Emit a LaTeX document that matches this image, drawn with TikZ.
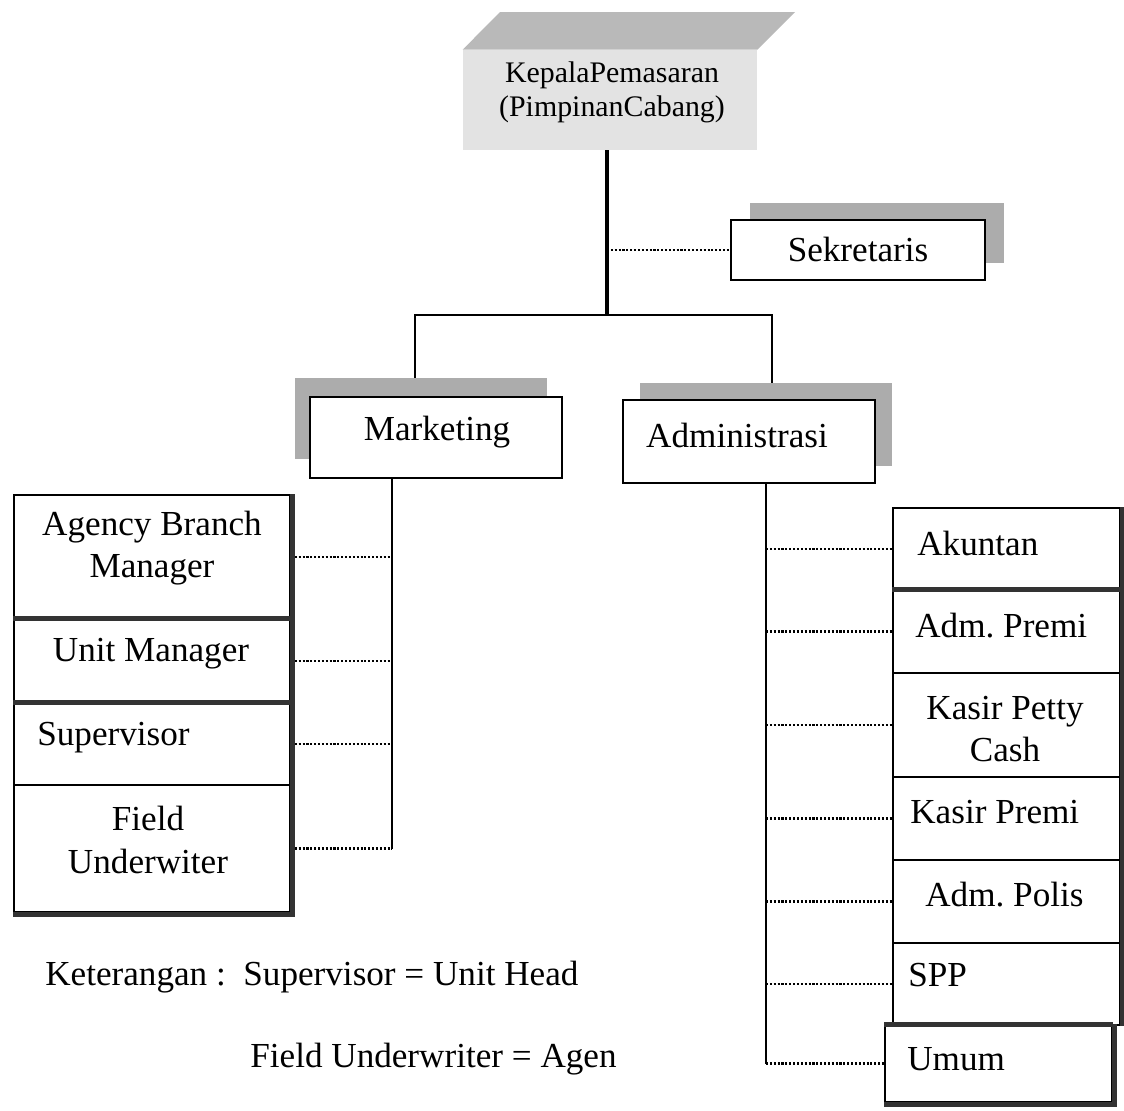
\documentclass[tikz,border=0pt]{standalone}
\usepackage{fontspec}
\setmainfont{Liberation Serif}
\usetikzlibrary{shadows,backgrounds,calc}
\frenchspacing
\begin{document}
\begin{tikzpicture}[x=0.02cm,y=-0.02cm,
  box/.style={draw, line width=1.1pt, fill=white, inner sep=0pt},
  txt/.style={font=\fontsize{20}{24}\selectfont, inner sep=0pt, align=center},
  smalltxt/.style={font=\fontsize{17}{19.5}\selectfont, inner sep=0pt, align=center},
  conn/.style={line width=1.2pt, densely dotted},
  bus/.style={line width=1.1pt},
  trunk/.style={line width=2.6pt},
  heavy/.style={line width=2.8pt, black!80},
  shadowfill/.style={fill=gray!65, opacity=1}
]
\useasboundingbox (0,0) rectangle (1124,1110);

% top box
\node[draw=none, fill=gray!22, minimum width=5.88cm, minimum height=2cm, inner sep=0pt] (kepala) at (610,100) {};
\fill[gray!55] (kepala.north west) -- (500,12) -- (795,12) -- (kepala.north east) -- cycle;
\node[smalltxt] (kepalatxt) at (612,92) {KepalaPemasaran\\(PimpinanCabang)};

% Sekretaris
\node[box, minimum width=5.08cm, minimum height=1.2cm,
  drop shadow={shadow xshift=0.38cm, shadow yshift=0.34cm, shadowfill}] (sek) at (858,250) {};
\node[txt] (sektxt) at (858,249) {Sekretaris};

% Marketing / Administrasi
\node[box, minimum width=5.04cm, minimum height=1.62cm,
  drop shadow={shadow xshift=-0.3cm, shadow yshift=0.38cm, shadowfill}] (mkt) at (436,437.5) {};
\node[txt] (mkttxt) at (437,432) {Marketing};
\node[box, minimum width=5.04cm, minimum height=1.66cm,
  drop shadow={shadow xshift=0.34cm, shadow yshift=0.34cm, shadowfill}] (adm) at (749,441.5) {};
\node[txt] (admtxt) at (737,435) {Administrasi};

% left stack
\node[box, minimum width=5.52cm, minimum height=2.48cm] (abm) at (152,557) {};
\node[box, minimum width=5.52cm, minimum height=1.68cm] (um) at (152,661) {};
\node[box, minimum width=5.52cm, minimum height=1.64cm] (sup) at (152,744) {};
\node[box, minimum width=5.52cm, minimum height=2.54cm] (fu) at (152,848.5) {};
\node[txt] (abmtxt) at (152,548) {Agency Branch\\Manager};
\node[txt] (umtxt) at (151,654) {Unit Manager};
\node[txt, anchor=west] (suptxt) at (37,738) {Supervisor};
\node[txt] (futxt) at (148,840) {Field\\Underwiter};
\draw[heavy] ([xshift=1pt]abm.north east) -- ([xshift=1pt,yshift=-1pt]fu.south east) -- ([yshift=-1pt]fu.south west);
\draw[heavy] (um.north west) -- (um.north east);
\draw[heavy] (sup.north west) -- (sup.north east);

% right stack
\node[box, minimum width=4.54cm, minimum height=1.64cm] (akun) at (1006.5,549) {};
\node[box, minimum width=4.54cm, minimum height=1.66cm] (apremi) at (1006.5,631.5) {};
\node[box, minimum width=4.54cm, minimum height=2.08cm] (kpc) at (1006.5,725) {};
\node[box, minimum width=4.54cm, minimum height=1.66cm] (kpremi) at (1006.5,818.5) {};
\node[box, minimum width=4.54cm, minimum height=1.66cm] (apolis) at (1006.5,901.5) {};
\node[box, minimum width=4.54cm, minimum height=1.64cm] (spp) at (1006.5,984) {};
\node[box, minimum width=4.54cm, minimum height=1.54cm] (umum) at (998.5,1063.5) {};
\node[txt, anchor=west] (akuntxt) at (917,543) {Akuntan};
\node[txt, anchor=west] (apremitxt) at (915,626) {Adm. Premi};
\node[txt] (kpctxt) at (1005,729) {Kasir Petty\\Cash};
\node[txt, anchor=west] (kpremitxt) at (910,812) {Kasir Premi};
\node[txt, anchor=west] (apolistxt) at (925,895) {Adm. Polis};
\node[txt, anchor=west] (spptxt) at (908,975) {SPP};
\node[txt, anchor=west] (umumtxt) at (907,1059) {Umum};
\draw[heavy] ([xshift=1pt]akun.north east) -- ([xshift=1pt]spp.south east);
\draw[heavy] ([xshift=1pt]umum.north east) -- ([xshift=1pt,yshift=-1pt]umum.south east) -- ([yshift=-1pt]umum.south west);
\draw[heavy] (apremi.north west) -- (apremi.north east);
\draw[heavy] (umum.north west) -- (umum.north east);

% legend
\node[txt, anchor=west] (ket) at (45,977) {Keterangan :\ \ Supervisor = Unit Head};
\node[txt, anchor=west] (ket2) at (250,1059) {Field Underwriter = Agen};

% connectors
\begin{scope}[on background layer]
\coordinate (j) at (607,315);
\coordinate (jl) at (415,315);
\coordinate (jr) at (772,315);
\draw[trunk] (j |- kepala.south) -- (j);
\draw[conn] (sek.west -| j) -- (sek.west);
\draw[bus] (jl |- mkt.north) -- (jl) -- (jr) -- (jr |- adm.north);
\coordinate (mb) at (392,0);
\draw[bus] (mkt.south -| mb) -- (fu.east -| mb);
\draw[conn] (abm.east) -- (abm.east -| mb);
\draw[conn] (um.east) -- (um.east -| mb);
\draw[conn] (sup.east) -- (sup.east -| mb);
\draw[conn] (fu.east) -- (fu.east -| mb);
\coordinate (ab) at (766,0);
\draw[bus] (adm.south -| ab) -- (umum.west -| ab);
\draw[conn] (akun.west -| ab) -- (akun.west);
\draw[conn] (apremi.west -| ab) -- (apremi.west);
\draw[conn] (kpc.west -| ab) -- (kpc.west);
\draw[conn] (kpremi.west -| ab) -- (kpremi.west);
\draw[conn] (apolis.west -| ab) -- (apolis.west);
\draw[conn] (spp.west -| ab) -- (spp.west);
\draw[conn] (umum.west -| ab) -- (umum.west);
\end{scope}
\end{tikzpicture}
\end{document}
